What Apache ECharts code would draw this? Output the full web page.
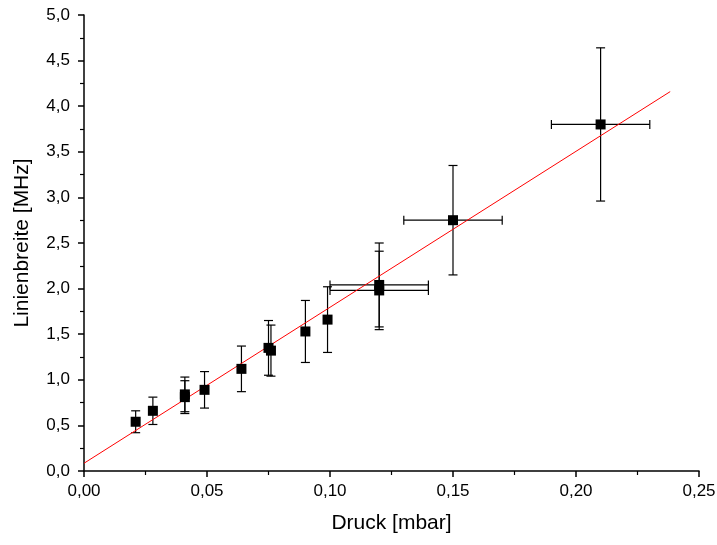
<!DOCTYPE html>
<html>
<head>
<meta charset="utf-8">
<script src="https://cdn.jsdelivr.net/npm/echarts@6/dist/echarts.min.js"></script>
<style>
  html, body { margin: 0; padding: 0; background: #fff; }
  #main { width: 717px; height: 545px; }
</style>
</head>
<body>
<div id="main"></div>
<script>
// Messwerte: Druck [mbar], Linienbreite [MHz] und Fehler
var druck = [0.021, 0.028, 0.041, 0.041, 0.049, 0.064, 0.075, 0.076, 0.090, 0.099, 0.120, 0.120, 0.150, 0.210];
var breite = [0.54, 0.66, 0.84, 0.81, 0.89, 1.12, 1.35, 1.32, 1.53, 1.66, 2.04, 1.98, 2.75, 3.80];
var breiteFehler = [0.12, 0.15, 0.19, 0.18, 0.20, 0.25, 0.30, 0.28, 0.34, 0.36, 0.46, 0.43, 0.60, 0.84];
var druckFehler = [0, 0, 0, 0, 0, 0, 0, 0, 0, 0, 0.02, 0.02, 0.02, 0.02];
// lineare Anpassung (Anfangs- und Endpunkt)
var fitX = [0, 0.2383];
var fitY = [0.085, 4.16];

var chartDom = document.getElementById('main');
var myChart = echarts.init(chartDom);

var punkte = druck.map(function (x, i) { return [x, breite[i]]; });
var fehler = druck.map(function (x, i) { return [x, breite[i], breiteFehler[i], druckFehler[i]]; });
var fit = fitX.map(function (x, i) { return [x, fitY[i]]; });

function komma(v, n) { return v.toFixed(n).replace('.', ','); }

var option = {
    animation: false,
    textStyle: { fontFamily: 'Liberation Sans, Arial, sans-serif' },
    grid: { left: 84, right: 18, top: 15, bottom: 74, containLabel: false, outerBoundsMode: 'none' },
    xAxis: {
        type: 'value',
        min: 0, max: 0.25, interval: 0.05,
        name: 'Druck [mbar]',
        nameLocation: 'middle',
        nameGap: 42,
        nameTextStyle: { fontSize: 21, color: '#000' },
        axisLine: { show: true, lineStyle: { color: '#000', width: 1.5 } },
        axisTick: { show: true, inside: false, length: 6, lineStyle: { color: '#000', width: 1.5 } },
        minorTick: { show: true, splitNumber: 2, length: 4, lineStyle: { color: '#000', width: 1.2 } },
        axisLabel: { fontSize: 17, color: '#000', margin: 12, formatter: function (v) { return komma(v, 2); } },
        splitLine: { show: false }
    },
    yAxis: {
        type: 'value',
        min: 0, max: 5, interval: 0.5,
        name: 'Linienbreite [MHz]',
        nameLocation: 'middle',
        nameGap: 51,
        nameTextStyle: { fontSize: 21, color: '#000' },
        axisLine: { show: true, lineStyle: { color: '#000', width: 1.5 } },
        axisTick: { show: true, inside: false, length: 6, lineStyle: { color: '#000', width: 1.5 } },
        minorTick: { show: true, splitNumber: 2, length: 4, lineStyle: { color: '#000', width: 1.2 } },
        axisLabel: { fontSize: 17, color: '#000', margin: 14, formatter: function (v) { return komma(v, 1); } },
        splitLine: { show: false }
    },
    series: [
        {
            name: 'Fit',
            type: 'line',
            data: fit,
            symbol: 'none',
            lineStyle: { color: '#ff0000', width: 1 },
            z: 3
        },
        {
            name: 'Fehler',
            type: 'custom',
            data: fehler,
            encode: { x: 0, y: 1 },
            z: 2,
            renderItem: function (params, api) {
                var x = api.value(0), y = api.value(1);
                var dy = api.value(2), dx = api.value(3);
                var top = api.coord([x, y + dy]);
                var bot = api.coord([x, y - dy]);
                var cap = 4.5;
                var style = { stroke: '#000', lineWidth: 1.2, fill: null };
                var children = [
                    { type: 'line', shape: { x1: top[0], y1: top[1], x2: bot[0], y2: bot[1] }, style: style },
                    { type: 'line', shape: { x1: top[0] - cap, y1: top[1], x2: top[0] + cap, y2: top[1] }, style: style },
                    { type: 'line', shape: { x1: bot[0] - cap, y1: bot[1], x2: bot[0] + cap, y2: bot[1] }, style: style }
                ];
                if (dx > 0) {
                    var l = api.coord([x - dx, y]);
                    var r = api.coord([x + dx, y]);
                    children.push(
                        { type: 'line', shape: { x1: l[0], y1: l[1], x2: r[0], y2: r[1] }, style: style },
                        { type: 'line', shape: { x1: l[0], y1: l[1] - cap, x2: l[0], y2: l[1] + cap }, style: style },
                        { type: 'line', shape: { x1: r[0], y1: r[1] - cap, x2: r[0], y2: r[1] + cap }, style: style }
                    );
                }
                return { type: 'group', children: children };
            }
        },
        {
            name: 'Messwerte',
            type: 'scatter',
            data: punkte,
            symbol: 'rect',
            symbolSize: 10,
            itemStyle: { color: '#000', opacity: 1 },
            z: 4
        }
    ]
};

option && myChart.setOption(option);
</script>
</body>
</html>
